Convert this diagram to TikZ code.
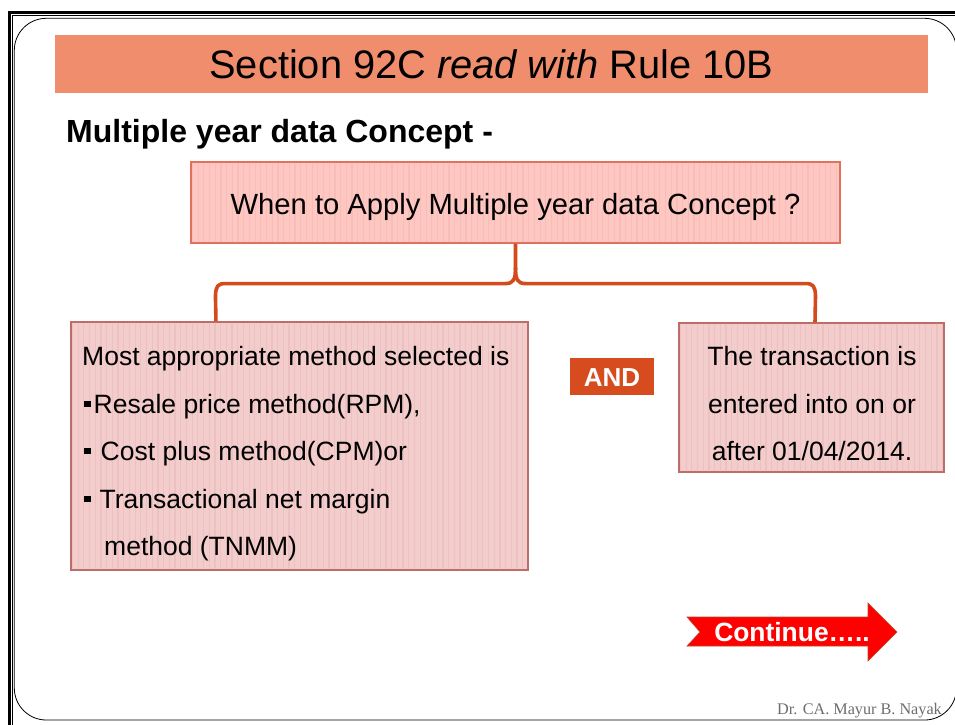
\documentclass[tikz,border=0pt]{standalone}
\usepackage{fontspec}
\setmainfont{Liberation Sans}
\newfontfamily\footfont{Liberation Serif}
\usetikzlibrary{calc}

\definecolor{titlefill}{RGB}{239,141,108}
\definecolor{qfill}{RGB}{255,199,194}
\definecolor{qline}{RGB}{226,112,92}
\definecolor{cfill}{RGB}{243,204,204}
\definecolor{cline}{RGB}{190,108,104}
\definecolor{stripecol}{RGB}{214,150,150}
\definecolor{bracecol}{RGB}{211,74,28}
\definecolor{andfill}{RGB}{214,76,30}
\definecolor{arrowred}{RGB}{255,0,0}
\definecolor{arrowedge}{RGB}{190,70,40}
\definecolor{footgray}{RGB}{110,110,110}

\newcommand{\sqbullet}{\rule[6pt]{6.5pt}{6.5pt}}
% faint vertical stripes inside a box node
\newcommand{\boxstripes}[1]{%
  \begin{scope}
    \clip ($(#1.north west)+(1,1)$) rectangle ($(#1.south east)+(-1,-1)$);
    \foreach \k in {0,...,115}
      \draw[stripecol, line width=1.2pt, opacity=0.2]
        ($(#1.north west)+(\k*5.7+2,0)$) -- ++(0,300);
  \end{scope}}

\tikzset{
  titlebar/.style={fill=titlefill, inner sep=0pt},
  question/.style={fill=qfill, draw=qline, line width=1.1pt, inner sep=0pt},
  condbox/.style={fill=cfill, draw=cline, line width=1.1pt, inner sep=0pt},
  andbox/.style={fill=andfill, inner sep=0pt},
  brace/.style={draw=bracecol, line width=3.6pt, line join=round},
  bodytext/.style={inner sep=0pt, font=\fontsize{26.5}{26.5}\selectfont},
}

\begin{document}
\begin{tikzpicture}[x=1pt, y=-1pt]
\useasboundingbox (0,0) rectangle (955,724);
\clip (0,0) rectangle (955,724);
\fill[white] (0,0) rectangle (955,724);

% slide frame: heavy outer line, thin inner line, rounded panel
\draw[line width=2.6pt] (9.3,740) -- (9.3,12.3) -- (970,12.3);
\draw[line width=0.9pt] (12.6,740) -- (12.6,15.3) -- (970,15.3);
\draw[line width=0.8pt, rounded corners=32pt] (14.3,18.3) rectangle (956.5,720);

% title bar
\node[titlebar, minimum width=873, minimum height=58] (title) at (491.5,64) {};
\node[anchor=base, inner sep=0pt, font=\fontsize{39.8}{39.8}\selectfont]
  (titletext) at (491.5,78) {Section 92C \textit{read with} Rule 10B};

% heading
\node[anchor=base west, inner sep=0pt, font=\fontsize{32}{32}\selectfont\bfseries]
  (heading) at (66,142) {Multiple year data Concept -};

% question box
\node[question, minimum width=649, minimum height=81] (top) at (515.5,202.5) {};
\boxstripes{top}
\node[anchor=base, inner sep=0pt, font=\fontsize{29.2}{29.2}\selectfont]
  (toptext) at (515.5,214) {When to Apply Multiple year data Concept ?};

% left condition box
\node[condbox, minimum width=457, minimum height=248] (left) at (299.5,446) {};
\boxstripes{left}
\node[bodytext, anchor=base west] (l1) at (82,365) {Most appropriate method selected is};
\node[bodytext, anchor=base west] (l2) at (84,413) {\sqbullet\hspace{3pt}Resale price method(RPM),};
\node[bodytext, anchor=base west] (l3) at (84,460) {\sqbullet\hspace{10pt}Cost plus method(CPM)or};
\node[bodytext, anchor=base west] (l4) at (84,508) {\sqbullet\hspace{9pt}Transactional net margin};
\node[bodytext, anchor=base west] (l5) at (104,555) {method (TNMM)};

% right condition box
\node[condbox, minimum width=265, minimum height=149] (right) at (811.5,397.5) {};
\boxstripes{right}
\node[bodytext, anchor=base] (r1) at (812,365) {The transaction is};
\node[bodytext, anchor=base] (r2) at (812,413) {entered into on or};
\node[bodytext, anchor=base] (r3) at (812,460) {after 01/04/2014.};

% AND label
\node[andbox, minimum width=84, minimum height=37] (and) at (612,376.5) {};
\node[anchor=base, inner sep=0pt, text=white, font=\fontsize{26}{26}\selectfont\bfseries]
  (andtext) at (612,386) {AND};

% curly brace joining the question to both conditions
\coordinate (cusp) at ($(top.south)+(0,40)$);
\coordinate (lfoot) at ([xshift=145.5pt]left.north west);
\coordinate (rfoot) at ([xshift=3.5pt]right.north);
\draw[brace] (top.south) -- ($(cusp)+(0,-16)$)
  .. controls ($(cusp)+(0,-4)$) and ($(cusp)+(-2,0)$) .. ($(cusp)+(-10,0)$)
  -- ($(lfoot|-cusp)+(10,0)$)
  .. controls ($(lfoot|-cusp)+(2,0)$) and ($(lfoot|-cusp)+(0,2)$) .. ($(lfoot|-cusp)+(-0.5,12)$)
  -- (lfoot);
\draw[brace] ($(cusp)+(0,-16)$)
  .. controls ($(cusp)+(0,-4)$) and ($(cusp)+(2,0)$) .. ($(cusp)+(10,0)$)
  -- ($(rfoot|-cusp)+(-10,0)$)
  .. controls ($(rfoot|-cusp)+(-2,0)$) and ($(rfoot|-cusp)+(0,2)$) .. ($(rfoot|-cusp)+(0.5,12)$)
  -- (rfoot);

% continue arrow
\fill[arrowred, draw=arrowedge, line width=0.6pt]
  (687,617) -- (868,617) -- (868,603) -- (897,632) -- (868,661) -- (868,646)
  -- (687,646) -- (700,632) -- cycle;
\node[anchor=base, inner sep=0pt, text=white, font=\fontsize{26.4}{26.4}\selectfont\bfseries]
  (cont) at (792,641) {Continue…..};

% footer
\node[anchor=base east, inner sep=0pt, text=footgray, font=\footfont\fontsize{16.2}{16.2}\selectfont]
  (foot) at (942,714) {Dr. CA. Mayur B. Nayak};
\end{tikzpicture}
\end{document}
